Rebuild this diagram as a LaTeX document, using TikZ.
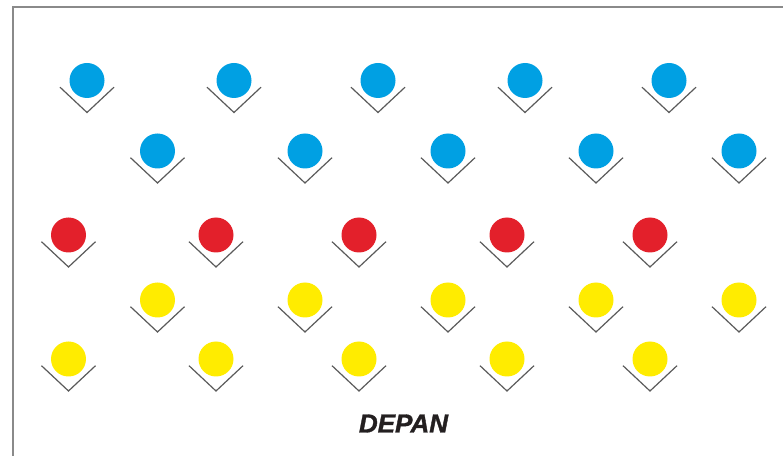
\documentclass[tikz,border=0pt]{standalone}
\usepackage{fontspec}
\setmainfont{Liberation Sans}
\newfontfamily\labelfont{Liberation Sans}[BoldItalicFeatures={FakeBold=1.3}]
\definecolor{dotblue}{HTML}{00A0E3}
\definecolor{dotred}{HTML}{E3202B}
\definecolor{dotyellow}{HTML}{FFEC00}
\definecolor{vgray}{HTML}{5A5A5A}
\definecolor{framegray}{HTML}{8A8A8A}
\definecolor{txt}{HTML}{231F20}
\begin{document}
\begin{tikzpicture}[x=0.75pt,y=-0.75pt,
  dot/.style={circle,inner sep=0pt,minimum size=26.25pt,draw=none},
  vmark/.style={draw=vgray,line width=0.9pt},
]
\useasboundingbox (0,0) rectangle (783,456);
\draw[framegray,line width=0.9pt] (13,456) -- (13,7) -- (783,7);
\newcommand\vdot[4]{%
  \node[dot,fill=#4] (#1) at (#2,#3) {};
  \draw[vmark] ([shift={(-27,6.7)}]#1.center) -- ([shift={(0,32)}]#1.center) -- ([shift={(27,6.7)}]#1.center);
}
% row 1 blue
\vdot{b1}{87}{80.5}{dotblue}
\vdot{b2}{234}{80.5}{dotblue}
\vdot{b3}{378}{80.5}{dotblue}
\vdot{b4}{525}{80.5}{dotblue}
\vdot{b5}{669}{80.5}{dotblue}
% row 2 blue
\vdot{c1}{157.5}{151}{dotblue}
\vdot{c2}{305}{151}{dotblue}
\vdot{c3}{448}{151}{dotblue}
\vdot{c4}{596}{151}{dotblue}
\vdot{c5}{739}{151}{dotblue}
% row 3 red
\vdot{r1}{68.5}{235}{dotred}
\vdot{r2}{216}{235}{dotred}
\vdot{r3}{359}{235}{dotred}
\vdot{r4}{507}{235}{dotred}
\vdot{r5}{650}{235}{dotred}
% row 4 yellow
\vdot{y1}{157.5}{300}{dotyellow}
\vdot{y2}{305}{300}{dotyellow}
\vdot{y3}{448}{300}{dotyellow}
\vdot{y4}{596}{300}{dotyellow}
\vdot{y5}{739}{300}{dotyellow}
% row 5 yellow
\vdot{z1}{68.5}{359}{dotyellow}
\vdot{z2}{216}{359}{dotyellow}
\vdot{z3}{359}{359}{dotyellow}
\vdot{z4}{507}{359}{dotyellow}
\vdot{z5}{650}{359}{dotyellow}
\node[text=txt,font=\labelfont\fontsize{19.5}{22}\selectfont\bfseries\itshape,inner sep=0pt] (label) at (403.5,423.5) {DEPAN};
\end{tikzpicture}
\end{document}
